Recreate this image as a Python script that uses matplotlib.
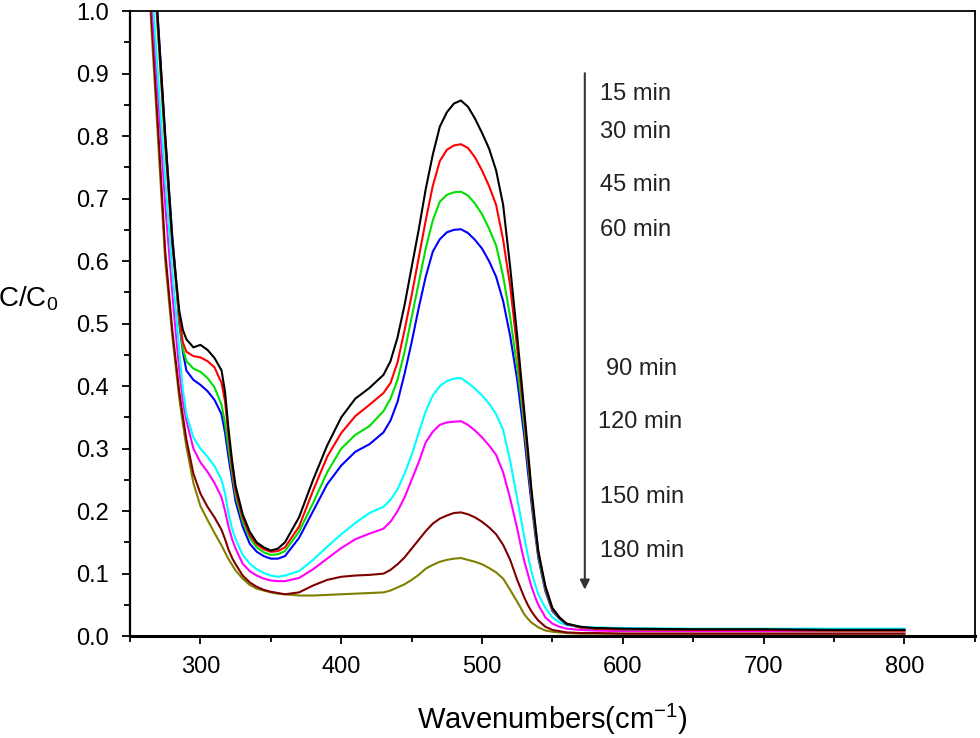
import matplotlib
matplotlib.use("Agg")
import matplotlib.pyplot as plt
from matplotlib.ticker import MultipleLocator, FormatStrFormatter

plt.rcParams['font.family'] = ['Liberation Sans', 'DejaVu Sans']
plt.rcParams['mathtext.default'] = 'regular'

# wavenumber grid (cm-1) and C/C0
wn = [262, 265, 270, 275, 280, 282.5, 285, 287.5, 290, 295,
      300, 305, 310, 315, 317.5, 320, 322.5, 325, 330, 335,
      340, 345, 350, 355, 360, 370, 380, 390, 400, 410,
      420, 430, 435, 440, 445, 450, 455, 460, 465, 470,
      475, 480, 485, 490, 495, 500, 505, 510, 515, 520,
      525, 527.5, 530, 532.5, 535, 537.5, 540, 545, 550, 555,
      560, 570, 580, 600, 650, 700, 750, 800]

c15 = [1.3, 1.15, 0.975, 0.80, 0.635, 0.575, 0.52, 0.49, 0.475, 0.462,
       0.466, 0.458, 0.445, 0.425, 0.39, 0.33, 0.28, 0.24, 0.195, 0.167,
       0.15, 0.142, 0.137, 0.14, 0.15, 0.19, 0.25, 0.305, 0.35, 0.38,
       0.397, 0.418, 0.44, 0.478, 0.53, 0.59, 0.65, 0.715, 0.77, 0.815,
       0.838, 0.852, 0.857, 0.847, 0.828, 0.805, 0.78, 0.745, 0.69, 0.59,
       0.48, 0.42, 0.36, 0.30, 0.237, 0.185, 0.135, 0.08, 0.045, 0.03,
       0.02, 0.015, 0.013, 0.012, 0.011, 0.011, 0.01, 0.01]
c30 = [1.3, 1.14, 0.965, 0.79, 0.63, 0.57, 0.51, 0.47, 0.455, 0.448,
       0.446, 0.44, 0.43, 0.405, 0.375, 0.32, 0.27, 0.232, 0.19, 0.162,
       0.147, 0.139, 0.135, 0.136, 0.142, 0.175, 0.233, 0.287, 0.325, 0.352,
       0.37, 0.389, 0.405, 0.438, 0.49, 0.545, 0.605, 0.665, 0.72, 0.76,
       0.778, 0.785, 0.787, 0.781, 0.766, 0.745, 0.72, 0.69, 0.634, 0.56,
       0.46, 0.405, 0.35, 0.29, 0.23, 0.18, 0.135, 0.078, 0.043, 0.03,
       0.02, 0.014, 0.012, 0.011, 0.01, 0.01, 0.009, 0.009]
c45 = [1.3, 1.13, 0.96, 0.785, 0.63, 0.57, 0.505, 0.46, 0.44, 0.428,
       0.423, 0.413, 0.398, 0.37, 0.34, 0.3, 0.26, 0.225, 0.183, 0.157,
       0.142, 0.134, 0.13, 0.131, 0.136, 0.167, 0.213, 0.262, 0.3, 0.322,
       0.336, 0.36, 0.38, 0.41, 0.455, 0.51, 0.565, 0.62, 0.665, 0.695,
       0.706, 0.71, 0.711, 0.705, 0.692, 0.675, 0.652, 0.625, 0.576, 0.51,
       0.43, 0.385, 0.335, 0.28, 0.225, 0.175, 0.13, 0.075, 0.042, 0.029,
       0.02, 0.014, 0.012, 0.011, 0.01, 0.01, 0.009, 0.009]
c60 = [1.3, 1.15, 0.98, 0.80, 0.64, 0.575, 0.5, 0.455, 0.425, 0.41,
       0.402, 0.392, 0.378, 0.355, 0.325, 0.285, 0.25, 0.215, 0.175, 0.148,
       0.135, 0.128, 0.124, 0.124, 0.128, 0.157, 0.2, 0.243, 0.273, 0.295,
       0.307, 0.326, 0.345, 0.375, 0.42, 0.47, 0.525, 0.575, 0.615, 0.635,
       0.646, 0.65, 0.651, 0.645, 0.634, 0.62, 0.60, 0.575, 0.536, 0.48,
       0.41, 0.365, 0.32, 0.265, 0.215, 0.168, 0.125, 0.072, 0.04, 0.028,
       0.019, 0.014, 0.012, 0.011, 0.01, 0.01, 0.01, 0.01]
c90 = [1.22, 1.06, 0.89, 0.73, 0.585, 0.52, 0.455, 0.395, 0.355, 0.318,
       0.3, 0.287, 0.272, 0.25, 0.228, 0.195, 0.172, 0.155, 0.13, 0.116,
       0.107, 0.101, 0.097, 0.095, 0.097, 0.104, 0.122, 0.143, 0.163, 0.181,
       0.197, 0.207, 0.218, 0.235, 0.26, 0.29, 0.325, 0.36, 0.385, 0.40,
       0.408, 0.412, 0.413, 0.405, 0.396, 0.385, 0.372, 0.355, 0.33, 0.28,
       0.22, 0.19, 0.158, 0.13, 0.104, 0.084, 0.067, 0.045, 0.03, 0.022,
       0.018, 0.015, 0.014, 0.013, 0.012, 0.012, 0.012, 0.012]
c120 = [1.19, 1.03, 0.86, 0.69, 0.55, 0.485, 0.425, 0.375, 0.345, 0.3,
        0.278, 0.263, 0.245, 0.222, 0.2, 0.175, 0.155, 0.14, 0.116, 0.104,
        0.097, 0.092, 0.089, 0.088, 0.088, 0.093, 0.107, 0.124, 0.141, 0.155,
        0.164, 0.172, 0.183, 0.2, 0.222, 0.25, 0.278, 0.31, 0.327, 0.338,
        0.342, 0.343, 0.344, 0.338, 0.329, 0.318, 0.305, 0.29, 0.262, 0.22,
        0.172, 0.145, 0.12, 0.10, 0.08, 0.064, 0.05, 0.03, 0.02, 0.015,
        0.012, 0.01, 0.009, 0.008, 0.008, 0.008, 0.008, 0.008]
c150 = [1.15, 1.0, 0.81, 0.615, 0.49, 0.44, 0.39, 0.352, 0.315, 0.26,
        0.228, 0.207, 0.19, 0.17, 0.155, 0.138, 0.125, 0.115, 0.097, 0.086,
        0.079, 0.074, 0.071, 0.069, 0.067, 0.07, 0.081, 0.09, 0.095, 0.097,
        0.098, 0.1, 0.106, 0.115, 0.126, 0.14, 0.154, 0.168, 0.18, 0.188,
        0.193, 0.197, 0.198, 0.195, 0.19, 0.183, 0.174, 0.163, 0.146, 0.122,
        0.09, 0.076, 0.062, 0.05, 0.04, 0.032, 0.025, 0.015, 0.01, 0.008,
        0.006, 0.005, 0.005, 0.004, 0.004, 0.004, 0.004, 0.004]
c180 = [1.12, 0.98, 0.79, 0.6, 0.48, 0.43, 0.38, 0.34, 0.303, 0.245,
        0.208, 0.186, 0.165, 0.145, 0.134, 0.123, 0.114, 0.105, 0.092, 0.082,
        0.076, 0.073, 0.07, 0.068, 0.067, 0.065, 0.065, 0.066, 0.067, 0.068,
        0.069, 0.07, 0.073, 0.078, 0.083, 0.09, 0.098, 0.108, 0.114, 0.119,
        0.122, 0.124, 0.125, 0.122, 0.119, 0.115, 0.109, 0.102, 0.092, 0.074,
        0.055, 0.045, 0.035, 0.028, 0.022, 0.018, 0.014, 0.009, 0.007, 0.006,
        0.005, 0.004, 0.004, 0.004, 0.004, 0.004, 0.004, 0.004]

series = [c15, c30, c45, c60, c90, c120, c150, c180]
colors = ['#000000', '#ff0000', '#00e000', '#0000ff', '#00ffff', '#ff00ff', '#800000', '#808000']
labels = ['15 min', '30 min', '45 min', '60 min', '90 min', '120 min', '150 min', '180 min']
label_x = [584, 584, 584, 584, 588, 582.5, 584, 584]
label_y = [0.867, 0.807, 0.722, 0.65, 0.428, 0.343, 0.222, 0.137]

fig = plt.figure(figsize=(9.8, 7.38), dpi=100)
ax = fig.add_axes([0.1327, 0.138, 0.862, 0.847])

for ys, col in zip(series[::-1], colors[::-1]):
    ax.plot(wn, ys, color=col, lw=1.5)

ax.annotate('', xy=(573, 0.07), xytext=(573, 0.905),
            arrowprops=dict(arrowstyle='-|>', color='#333333', lw=1.5, mutation_scale=14))
for t, lx, ly in zip(labels, label_x, label_y):
    ax.text(lx, ly, t, fontsize=17, va='center', ha='left', color='#222222')

ax.set_xlim(250, 850)
ax.set_ylim(0, 1.0)
ax.xaxis.set_major_locator(MultipleLocator(100))
ax.xaxis.set_minor_locator(MultipleLocator(50))
ax.yaxis.set_major_locator(MultipleLocator(0.1))
ax.yaxis.set_minor_locator(MultipleLocator(0.05))
ax.set_xticks([300, 400, 500, 600, 700, 800])
ax.tick_params(which='both', direction='out', top=False, right=False, width=1.3)
ax.tick_params(which='major', length=6)
ax.tick_params(which='minor', length=4)
ax.tick_params(axis='y', labelsize=17, pad=9)
ax.tick_params(axis='x', labelsize=17, pad=8)
ax.yaxis.set_major_formatter(FormatStrFormatter('%.1f'))

ax.spines['bottom'].set_linewidth(2.2)
ax.spines['left'].set_linewidth(1.6)
ax.spines['top'].set_linewidth(1.3)
ax.spines['right'].set_linewidth(1.3)

ax.set_xlabel('Wavenumbers(cm$^{-1}$)', fontsize=21, va='center')
ax.xaxis.set_label_coords(0.5, -0.133)
ax.set_ylabel('C/C$_0$', fontsize=20, rotation=0, ha='left', va='center')
ax.yaxis.set_label_coords(-0.156, 0.54)

fig.savefig('out.png', dpi=100)
